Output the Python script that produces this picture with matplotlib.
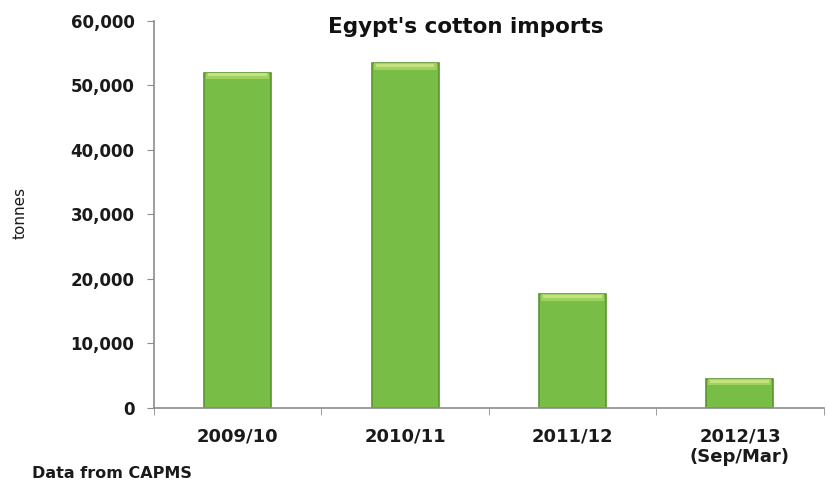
import matplotlib.pyplot as plt
from matplotlib.ticker import FuncFormatter

seasons = ['2009/10', '2010/11', '2011/12', '2012/13\n(Sep/Mar)']
imports = [52000, 53400, 17600, 4500]

fig = plt.figure(figsize=(8.27, 4.86), dpi=100)
ax = fig.add_axes([0.186, 0.1605, 0.81, 0.7965])

x = range(len(seasons))
width = 0.4

# main green bars
ax.bar(x, imports, width=width, color='#78bd45', edgecolor='#5b9530',
       linewidth=1.2, zorder=2)
# light bevel along the top of each bar, fading into the bar colour
bevel = 1000
ax.bar(x, [bevel] * len(imports), bottom=[v - bevel for v in imports],
       width=width * 0.94, color='#9fd060', linewidth=0, zorder=3)
ax.bar(x, [bevel * 0.5] * len(imports), bottom=[v - bevel * 0.6 for v in imports],
       width=width * 0.88, color='#c4e27e', linewidth=0, zorder=4)

ax.set_xlim(-0.5, len(seasons) - 0.5)
ax.set_ylim(0, 60000)
ax.set_yticks(range(0, 60001, 10000))
ax.yaxis.set_major_formatter(FuncFormatter(lambda v, p: f'{int(v):,}'))

ax.set_xticks(list(x))
ax.set_xticklabels(seasons)
ax.set_xticks([i - 0.5 for i in range(len(seasons) + 1)], minor=True)
ax.tick_params(axis='x', which='major', length=0, pad=14,
               labelsize=13)
ax.tick_params(axis='x', which='minor', length=5, color='#8c8c8c')
ax.tick_params(axis='y', length=5, color='#8c8c8c', pad=9, labelsize=12)
for lbl in ax.get_xticklabels() + ax.get_yticklabels():
    lbl.set_fontweight('bold')
    lbl.set_color('#1a1a1a')
for lbl in ax.get_xticklabels():
    lbl.set_verticalalignment('top')
    lbl.set_linespacing(1.2)

for side in ['top', 'right']:
    ax.spines[side].set_visible(False)
for side in ['left', 'bottom']:
    ax.spines[side].set_color('#8c8c8c')
    ax.spines[side].set_linewidth(1.2)

fig.text(0.563, 0.944, "Egypt's cotton imports", ha='center', va='center',
         fontsize=15.5, fontweight='heavy', color='#111111')
fig.text(0.024, 0.562, 'tonnes', rotation=90, ha='center', va='center',
         fontsize=11, color='#1a1a1a')
fig.text(0.039, 0.016, 'Data from CAPMS', ha='left', va='baseline',
         fontsize=11.5, fontweight='bold', color='#1a1a1a')

fig.savefig('out.png', dpi=100)
